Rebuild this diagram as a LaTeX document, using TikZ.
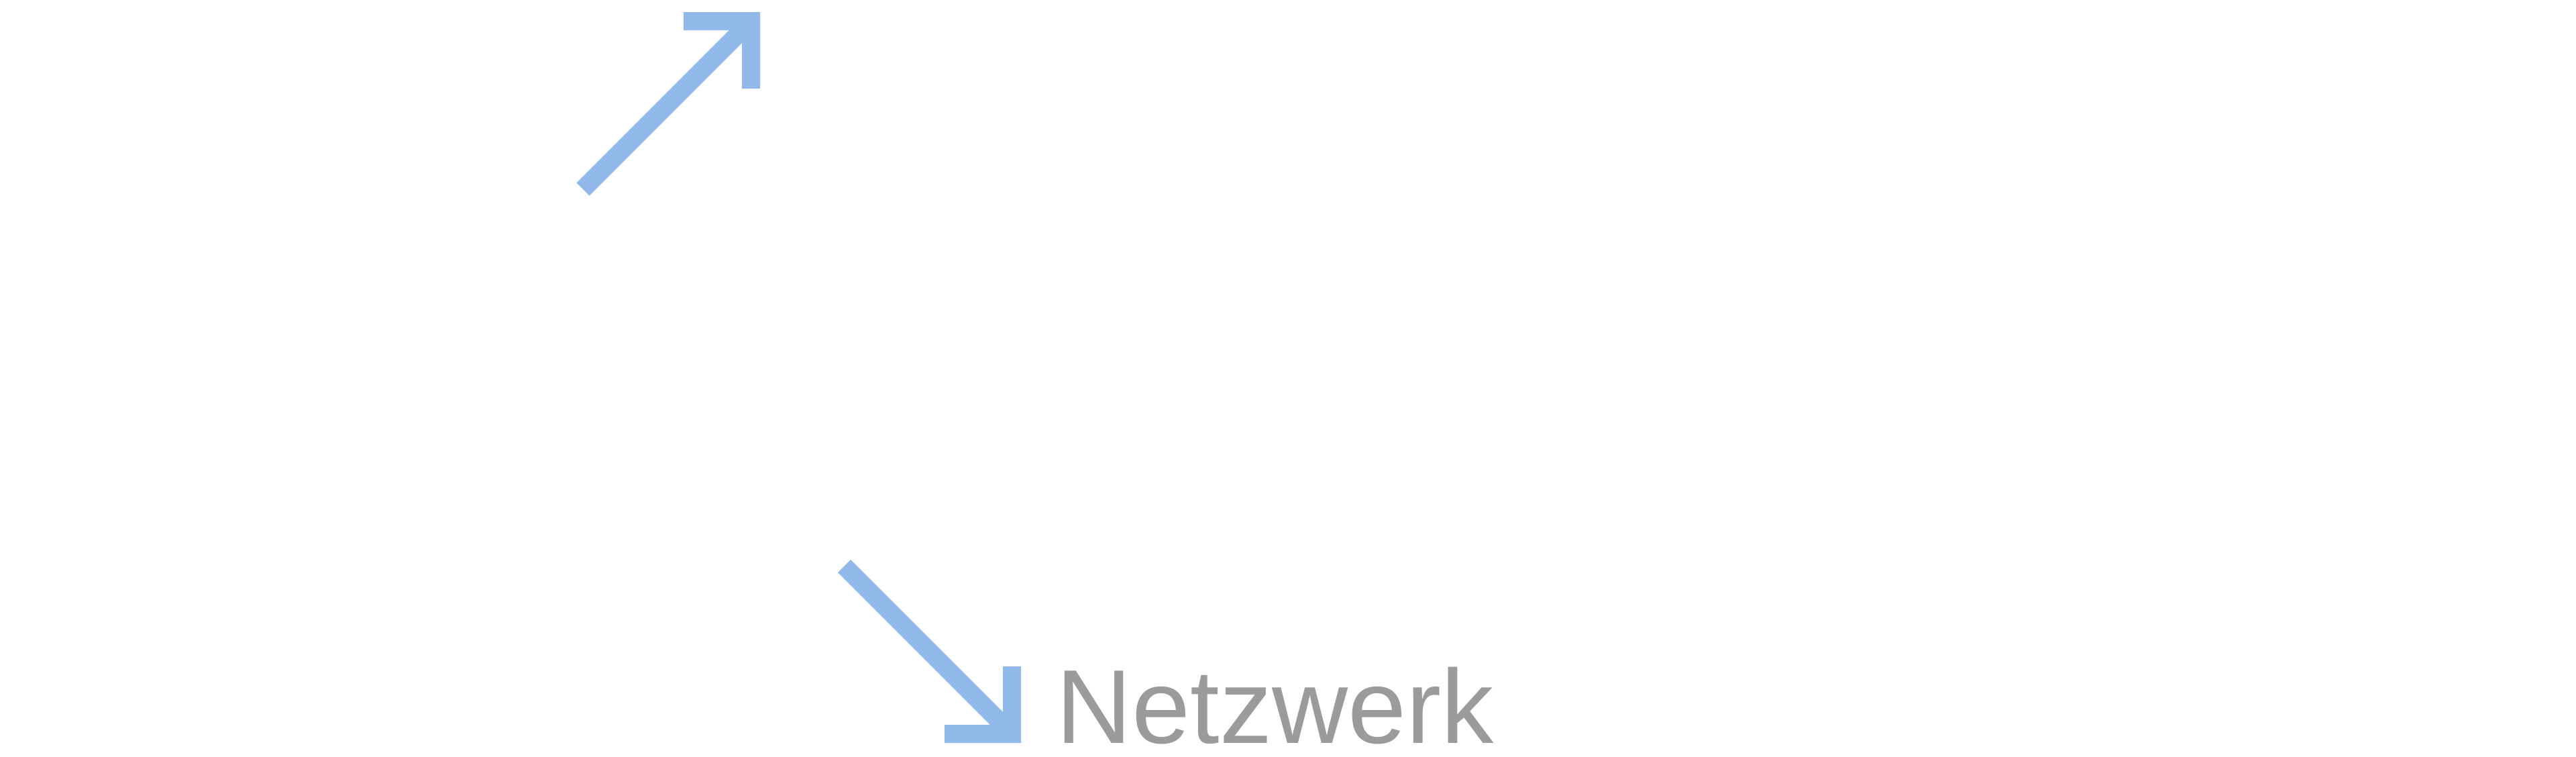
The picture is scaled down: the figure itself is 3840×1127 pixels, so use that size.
\documentclass[tikz,border=0pt]{standalone}
\usepackage{fontspec}
\setmainfont{Liberation Sans}
\definecolor{arrowblue}{RGB}{144,184,232}
\definecolor{labelgray}{RGB}{155,155,155}
\begin{document}
\begin{tikzpicture}[x=0.01cm,y=-0.01cm,
  arrowline/.style={draw=arrowblue,line width=0.27cm,line cap=butt},
  arrowhead/.style={fill=arrowblue,draw=none},
  labeltext/.style={inner sep=0pt,anchor=base west,text=labelgray,font=\fontsize{44.5pt}{50pt}\selectfont}]
\useasboundingbox[fill=white] (0,0) rectangle (3840,1127);
% upper arrow
\coordinate (upstart) at (869,282);
\coordinate (upend) at (1115,36);
\draw[arrowline] (upstart) -- (upend);
\fill[arrowhead] (1019,18) -- (1133,18) -- (1133,132) -- (1106,132) -- (1106,45) -- (1019,45) -- cycle;
% lower arrow
\coordinate (downstart) at (1258.5,843.5);
\coordinate (downend) at (1511,1096);
\draw[arrowline] (downstart) -- (downend);
\fill[arrowhead] (1495,993) -- (1522,993) -- (1522,1107) -- (1408,1107) -- (1408,1080) -- (1495,1080) -- cycle;
% label
\node[labeltext] (netz) at (1574,1107) {Netzwerk};
\end{tikzpicture}
\end{document}
